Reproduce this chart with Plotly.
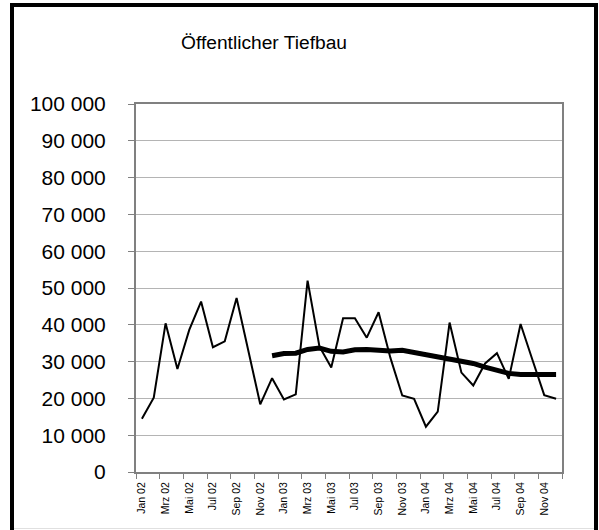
import plotly.graph_objects as go

months = ["Jan", "Feb", "Mrz", "Apr", "Mai", "Jun", "Jul", "Aug", "Sep", "Okt", "Nov", "Dez"]
years = ["02", "03", "04"]
categories = [f"{m} {y}" for y in years for m in months]

values = [14500, 20200, 40400, 28000, 38600, 46300, 33900, 35500, 47300, 32800, 18400, 25500,
          19700, 21100, 52000, 34100, 28400, 41800, 41800, 36500, 43400, 31000, 20800, 19900,
          12300, 16400, 40600, 27000, 23500, 29500, 32300, 25300, 40200, 30500, 20900, 19900]

ma_categories = categories[11:]
ma_values = [31600, 32200, 32300, 33300, 33700, 32800, 32600, 33200, 33300, 33000, 32900, 33100,
             32500, 31800, 31400, 30500, 30000, 29500, 28500, 27600, 26800, 26500, 26500, 26500, 26500]

title_text = "Öffentlicher Tiefbau"
font_family = "Liberation Sans, Arial, sans-serif"

fig = go.Figure()
fig.add_trace(go.Scatter(x=categories, y=values, mode="lines",
                         line=dict(color="black", width=2), showlegend=False))
fig.add_trace(go.Scatter(x=ma_categories, y=ma_values, mode="lines",
                         line=dict(color="black", width=5), showlegend=False))

W, H = 599, 530
L, R, T, B = 136, 37, 104, 58
pw, ph = W - L - R, H - T - B

def px(x):
    return (x - L) / pw

def py(y):
    return (H - B - y) / ph

fig.update_layout(
    width=W, height=H,
    margin=dict(l=L, r=R, t=T, b=B, pad=0),
    paper_bgcolor="white", plot_bgcolor="white",
    separators=", ",
    font=dict(family=font_family, color="black"),
    showlegend=False,
    hovermode=False,
    xaxis=dict(
        type="category", categoryorder="array", categoryarray=categories,
        range=[-0.5, 35.5], dtick=2, tickson="boundaries",
        ticks="outside", ticklen=5, tickcolor="#808080", tickwidth=1,
        tickangle=-90, tickfont=dict(size=10.5, family=font_family),
        showgrid=False, showline=True, linecolor="#808080", linewidth=2, mirror=True,
        ticklabelstandoff=4, zeroline=False,
    ),
    yaxis=dict(
        range=[0, 100000], dtick=10000, tickformat=",d",
        ticks="outside", ticklen=6, tickcolor="#808080", tickwidth=1,
        tickfont=dict(size=21, family=font_family),
        showgrid=True, gridcolor="#b4b4b4", gridwidth=1,
        showline=True, linecolor="#808080", linewidth=2, mirror=True,
        ticklabelstandoff=18, zeroline=False,
    ),
    annotations=[dict(
        text=title_text, xref="paper", yref="paper",
        x=px(263.5), y=py(42), xanchor="center", yanchor="middle",
        showarrow=False, font=dict(size=19.2, family=font_family, color="black"),
    )],
    shapes=[
        dict(type="line", xref="paper", yref="paper",
             x0=px(14), x1=px(595), y0=py(528.5), y1=py(528.5),
             line=dict(color="#e0e0e0", width=1)),
        dict(type="rect", xref="paper", yref="paper",
             x0=px(12), x1=px(596), y0=py(5), y1=py(540),
             line=dict(color="black", width=4)),
    ],
)

fig.write_html("out.html", config={"displayModeBar": False, "staticPlot": True},
               post_script="document.body.style.margin='0';")
